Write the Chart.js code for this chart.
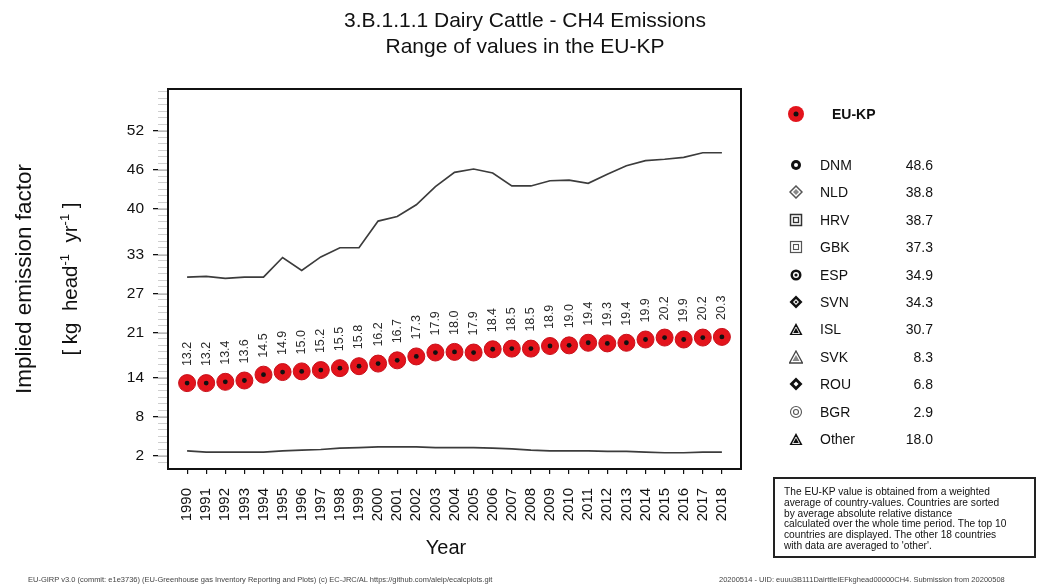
<!DOCTYPE html>
<html>
<head>
<meta charset="utf-8">
<script src="https://cdn.jsdelivr.net/npm/chart.js@4/dist/chart.umd.min.js"></script>
<style>
  body { margin: 0; width: 1039px; height: 588px; overflow: hidden; background: #fff;
         font-family: "Liberation Sans", Arial, sans-serif; color: #111; }
  #wrap { position: relative; width: 1039px; height: 588px; }
  canvas { position: absolute; left: 0; top: 0; }
  .abs { position: absolute; white-space: pre; }
  .title { left: 0; width: 1050px; text-align: center; font-size: 21px; }
  .rot { transform: rotate(-90deg); text-align: center; }
  .leg-sym { position: absolute; left: 789px; width: 14px; height: 14px; }
  .leg-name { position: absolute; left: 820px; font-size: 14px; line-height: 16px; }
  .leg-val { position: absolute; left: 883px; width: 50px; text-align: right; font-size: 14px; line-height: 16px; }
  sup { font-size: 13px; }
</style>
</head>
<body>
<div id="wrap">
  <canvas id="chart" width="1039" height="588"></canvas>

  <div class="abs title" style="top:8px;">3.B.1.1.1 Dairy Cattle - CH4 Emissions</div>
  <div class="abs title" style="top:34px;">Range of values in the EU-KP</div>

  <div class="abs rot" style="left:-116px; top:265px; width:280px; height:28px; line-height:28px; font-size:22.5px;">Implied emission factor</div>
  <div class="abs rot" style="left:-55px; top:264px; width:240px; height:30px; line-height:30px; font-size:20.5px;">[ kg  head<sup>-1</sup>  yr<sup>-1</sup> ]</div>

  <div class="abs" style="left:396px; top:536px; width:100px; text-align:center; font-size:20px;">Year</div>

  <div id="legend"></div>

  <div class="abs" style="left:773px; top:477px; width:259px; height:77px; border:2px solid #222; font-size:10.2px; line-height:10.8px; padding:0;">
    <div style="position:absolute; left:9px; top:8px;">The EU-KP value is obtained from a weighted
average of country-values. Countries are sorted
by average absolute relative distance
calculated over the whole time period. The top 10
countries are displayed. The other 18 countries
with data are averaged to 'other'.</div>
  </div>

  <div class="abs" style="left:28px; top:575px; font-size:7.5px; color:#444;">EU-GIRP v3.0 (commit: e1e3736) (EU-Greenhouse gas Inventory Reporting and Plots) (c) EC-JRC/AL https://github.com/aleip/ecalcplots.git</div>
  <div class="abs" style="left:719px; top:575px; font-size:7.5px; color:#444;">20200514 - UID: euuu3B111DairttleIEFkghead00000CH4. Submission from 20200508</div>
</div>

<script>
// data
const years = [1990, 1991, 1992, 1993, 1994, 1995, 1996, 1997, 1998, 1999, 2000, 2001, 2002, 2003, 2004,
  2005, 2006, 2007, 2008, 2009, 2010, 2011, 2012, 2013, 2014, 2015, 2016, 2017, 2018];
const euValues = [13.2, 13.2, 13.4, 13.6, 14.5, 14.9, 15.0, 15.2, 15.5, 15.8, 16.2, 16.7, 17.3, 17.9, 18.0,
  17.9, 18.4, 18.5, 18.5, 18.9, 19.0, 19.4, 19.3, 19.4, 19.9, 20.2, 19.9, 20.2, 20.3];
const maxValues = [29.5, 29.6, 29.3, 29.5, 29.5, 32.5, 30.5, 32.6, 34.0, 34.0, 38.1, 38.8, 40.6, 43.4, 45.6,
  46.1, 45.5, 43.5, 43.5, 44.3, 44.4, 43.9, 45.3, 46.6, 47.4, 47.6, 47.9, 48.6, 48.6];
const minValues = [2.8, 2.6, 2.6, 2.6, 2.6, 2.8, 2.9, 3.0, 3.2, 3.3, 3.4, 3.4, 3.4, 3.3, 3.3,
  3.3, 3.2, 3.1, 2.9, 2.8, 2.8, 2.8, 2.7, 2.7, 2.6, 2.5, 2.5, 2.6, 2.6];
const yTicks = [2, 8, 14, 21, 27, 33, 40, 46, 52];

const legendNames = ['DNM', 'NLD', 'HRV', 'GBK', 'ESP', 'SVN', 'ISL', 'SVK', 'ROU', 'BGR', 'Other'];
const legendValues = ['48.6', '38.8', '38.7', '37.3', '34.9', '34.3', '30.7', '8.3', '6.8', '2.9', '18.0'];

// small svg symbols for the legend
const symbols = {
  DNM: '<circle cx="7" cy="7" r="5" fill="#111"/><circle cx="7" cy="7" r="2" fill="#fff"/>',
  NLD: '<path d="M7 1 L13 7 L7 13 L1 7 Z" fill="none" stroke="#555" stroke-width="1.5"/><path d="M7 4 L10 7 L7 10 L4 7 Z" fill="#888"/>',
  HRV: '<rect x="1.5" y="1.5" width="11" height="11" fill="none" stroke="#333" stroke-width="1.5"/><rect x="4.5" y="4.5" width="5" height="5" fill="none" stroke="#333" stroke-width="1.3"/>',
  GBK: '<rect x="1.5" y="1.5" width="11" height="11" fill="none" stroke="#555" stroke-width="1.2"/><rect x="4.5" y="4.5" width="5" height="5" fill="none" stroke="#555" stroke-width="1.1"/>',
  ESP: '<circle cx="7" cy="7" r="5.5" fill="#111"/><circle cx="7" cy="7" r="3" fill="#fff"/><circle cx="7" cy="7" r="1.6" fill="#111"/>',
  SVN: '<path d="M7 0.5 L13.5 7 L7 13.5 L0.5 7 Z" fill="#111"/><path d="M7 4 L10 7 L7 10 L4 7 Z" fill="#fff"/><path d="M7 5.5 L8.5 7 L7 8.5 L5.5 7 Z" fill="#111"/>',
  ISL: '<path d="M7 1 L13.5 13 L0.5 13 Z" fill="#111"/><path d="M7 5 L10.5 11.5 L3.5 11.5 Z" fill="none" stroke="#fff" stroke-width="0.9"/>',
  SVK: '<path d="M7 1 L13.5 13 L0.5 13 Z" fill="none" stroke="#444" stroke-width="1.3"/><path d="M7 5 L10.5 11 L3.5 11 Z" fill="#888"/>',
  ROU: '<path d="M7 0.5 L13.5 7 L7 13.5 L0.5 7 Z" fill="#111"/><path d="M7 4.5 L9.5 7 L7 9.5 L4.5 7 Z" fill="#fff"/>',
  BGR: '<circle cx="7" cy="7" r="5.5" fill="none" stroke="#555" stroke-width="1.1"/><circle cx="7" cy="7" r="2.5" fill="none" stroke="#555" stroke-width="1.1"/>',
  Other: '<path d="M7 1 L13.5 13 L0.5 13 Z" fill="#111"/><path d="M7 5 L10.5 11.5 L3.5 11.5 Z" fill="none" stroke="#fff" stroke-width="0.9"/>'
};

// build the legend on the right
let legHtml = '<svg class="leg-sym" style="left:787px; top:105px; width:18px; height:18px;">' +
  '<circle cx="9" cy="9" r="8" fill="#e3141c"/><circle cx="9" cy="9" r="2.5" fill="#111"/></svg>' +
  '<div class="leg-name" style="left:832px; top:106px; font-weight:bold;">EU-KP</div>';
legendNames.forEach((name, i) => {
  const cy = 165 + i * 27.4;
  legHtml += '<svg class="leg-sym" style="top:' + (cy - 7) + 'px;">' + symbols[name] + '</svg>';
  legHtml += '<div class="leg-name" style="top:' + (cy - 8) + 'px;">' + name + '</div>';
  legHtml += '<div class="leg-val" style="top:' + (cy - 8) + 'px;">' + legendValues[i] + '</div>';
});
document.getElementById('legend').innerHTML = legHtml;

const toPoints = (vals) => years.map((yr, i) => ({ x: yr, y: vals[i] }));

// box around the plot area
const boxPlugin = {
  id: 'box',
  afterDraw(chart) {
    const { ctx, chartArea: a } = chart;
    ctx.save();
    ctx.strokeStyle = '#111';
    ctx.lineWidth = 2;
    ctx.strokeRect(a.left, a.top, a.right - a.left, a.bottom - a.top);
    ctx.restore();
  }
};

// rotated value labels above the EU-KP points
const valueLabels = {
  id: 'valueLabels',
  afterDatasetsDraw(chart) {
    const { ctx } = chart;
    const meta = chart.getDatasetMeta(2);
    ctx.save();
    ctx.fillStyle = '#2a2a2a';
    ctx.font = '12.5px "Liberation Sans", Arial, sans-serif';
    ctx.textAlign = 'left';
    ctx.textBaseline = 'middle';
    meta.data.forEach((pt, i) => {
      ctx.save();
      ctx.translate(pt.x, pt.y - 17);
      ctx.rotate(-Math.PI / 2);
      ctx.fillText(euValues[i].toFixed(1), 0, 0);
      ctx.restore();
    });
    ctx.restore();
  }
};

const fam = '"Liberation Sans", Arial, sans-serif';

new Chart(document.getElementById('chart'), {
  type: 'line',
  data: {
    datasets: [
      { data: toPoints(maxValues), borderColor: '#3c3c3c', borderWidth: 1.7, pointRadius: 0, tension: 0, order: 2 },
      { data: toPoints(minValues), borderColor: '#3c3c3c', borderWidth: 1.7, pointRadius: 0, tension: 0, order: 2 },
      { data: toPoints(euValues), showLine: false, pointRadius: 8.5, pointBackgroundColor: '#e3141c',
        pointBorderColor: '#c8101a', pointBorderWidth: 1, order: 1 },
      { data: toPoints(euValues), showLine: false, pointRadius: 2.4, pointBackgroundColor: '#111',
        pointBorderWidth: 0, order: 0 }
    ]
  },
  options: {
    responsive: false,
    animation: false,
    layout: { padding: { left: 0, top: 89, right: 298, bottom: 0 } },
    plugins: { legend: { display: false }, tooltip: { enabled: false }, title: { display: false } },
    scales: {
      x: {
        type: 'linear',
        min: 1989,
        max: 2019,
        afterBuildTicks: (scale) => { scale.ticks = years.map(v => ({ value: v })); },
        afterFit: (scale) => { scale.height = 119; },
        grid: { drawOnChartArea: false, tickLength: 5, color: '#111', lineWidth: 1.2 },
        border: { display: false },
        ticks: { font: { family: fam, size: 15 }, color: '#111', minRotation: 90, maxRotation: 90, padding: 14,
          autoSkip: false, callback: (v) => String(v) }
      },
      y: {
        position: 'left',
        weight: 1,
        min: 0,
        max: 58.4,
        afterBuildTicks: (scale) => { scale.ticks = yTicks.map(v => ({ value: v })); },
        afterFit: (scale) => { scale.width = 168; },
        grid: { drawOnChartArea: false, tickLength: 15, color: '#111', lineWidth: 1.3 },
        border: { display: false },
        ticks: { font: { family: fam, size: 15.5 }, color: '#111', padding: 9 }
      },
      yMinor: {
        position: 'left',
        weight: 0,
        min: 0,
        max: 58.4,
        afterBuildTicks: (scale) => {
          const t = [];
          for (let v = 1; v <= 58; v++) t.push({ value: v });
          scale.ticks = t;
        },
        afterFit: (scale) => { scale.width = 0; },
        grid: { drawOnChartArea: false, tickLength: 10, color: '#cfcfcf', lineWidth: 1 },
        border: { display: false },
        ticks: { display: false }
      }
    }
  },
  plugins: [boxPlugin, valueLabels]
});
</script>
</body>
</html>
